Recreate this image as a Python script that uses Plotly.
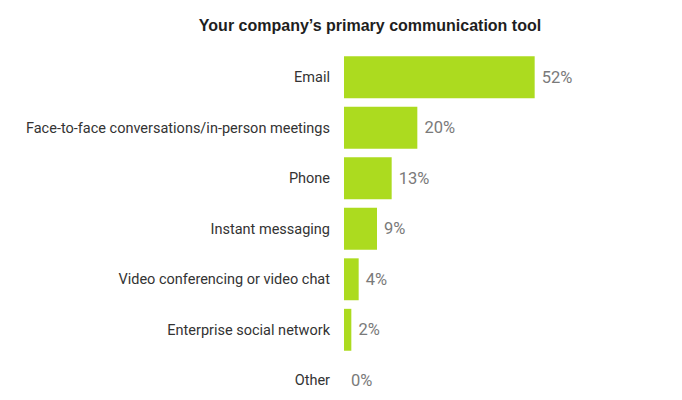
import plotly.graph_objects as go

categories = [
    "Email",
    "Face-to-face conversations/in-person meetings",
    "Phone",
    "Instant messaging",
    "Video conferencing or video chat",
    "Enterprise social network",
    "Other",
]
shares = [52, 20, 13, 9, 4, 2, 0]

BAR_GREEN = "#acdb1f"

fig = go.Figure(
    go.Bar(
        x=shares,
        y=categories,
        orientation="h",
        marker=dict(color=BAR_GREEN, line=dict(width=0)),
        texttemplate="\u00a0%{x}%",
        textposition="outside",
        textfont=dict(family="Roboto", size=16.5, color="#7a7a7a"),
        cliponaxis=False,
    )
)

fig.update_layout(
    width=682,
    height=400,
    margin=dict(l=344, r=118, t=52, b=0),
    paper_bgcolor="white",
    plot_bgcolor="white",
    bargap=0.17,
    showlegend=False,
    title=dict(
        text="<b>Your company\u2019s primary communication tool</b>",
        x=370 / 682,
        xanchor="center",
        xref="container",
        y=1 - 25 / 400,
        yanchor="middle",
        yref="container",
        font=dict(family="Arial", size=16, color="#1e1e1e"),
    ),
)
fig.update_xaxes(range=[0, 60], visible=False, fixedrange=True)
fig.update_yaxes(
    categoryorder="array",
    categoryarray=categories,
    range=[6.39, -0.5],
    showgrid=False,
    zeroline=False,
    showline=False,
    ticks="",
    ticklabelstandoff=13,
    tickfont=dict(family="Roboto", size=14.5, color="#333333"),
)

# page body margin would push the chart off its intended spot
fig.write_html(
    "out.html",
    config={"displayModeBar": False},
    post_script="document.body.style.margin='0';",
)
